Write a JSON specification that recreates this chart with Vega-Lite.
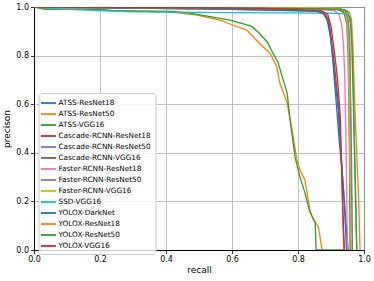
{
  "$schema": "https://vega.github.io/schema/vega-lite/v6.json",
  "autosize": "none",
  "padding": {"left": 34, "top": 7, "right": 10, "bottom": 31},
  "width": 330,
  "height": 243,
  "background": "white",
  "config": {
    "font": "DejaVu Sans",
    "view": {"stroke": "black", "strokeWidth": 1},
    "axis": {
      "labelFont": "DejaVu Sans", "titleFont": "DejaVu Sans",
      "labelFontSize": 8, "titleFontSize": 9, "titleFontWeight": "normal",
      "labelColor": "black", "titleColor": "black",
      "domainColor": "black", "domainWidth": 1,
      "tickColor": "black", "tickSize": 3.5, "tickWidth": 0.8,
      "gridColor": "#b0b0b0", "gridWidth": 0.8,
      "labelFlush": false, "labelOverlap": false, "labelBound": false, "labelPadding": 2
    }
  },
  "data": {"values": [
    {"model":"ATSS-ResNet18","i":0,"recall":0,"precision":1},
    {"model":"ATSS-ResNet18","i":1,"recall":0.3,"precision":0.995},
    {"model":"ATSS-ResNet18","i":2,"recall":0.6,"precision":0.99},
    {"model":"ATSS-ResNet18","i":3,"recall":0.85,"precision":0.983},
    {"model":"ATSS-ResNet18","i":4,"recall":0.875,"precision":0.975},
    {"model":"ATSS-ResNet18","i":5,"recall":0.888,"precision":0.95},
    {"model":"ATSS-ResNet18","i":6,"recall":0.898,"precision":0.88},
    {"model":"ATSS-ResNet18","i":7,"recall":0.905,"precision":0.79},
    {"model":"ATSS-ResNet18","i":8,"recall":0.915,"precision":0.62},
    {"model":"ATSS-ResNet18","i":9,"recall":0.925,"precision":0.45},
    {"model":"ATSS-ResNet18","i":10,"recall":0.935,"precision":0.3},
    {"model":"ATSS-ResNet18","i":11,"recall":0.945,"precision":0.12},
    {"model":"ATSS-ResNet18","i":12,"recall":0.952,"precision":0},

    {"model":"ATSS-ResNet50","i":0,"recall":0,"precision":1},
    {"model":"ATSS-ResNet50","i":1,"recall":0.04,"precision":0.993},
    {"model":"ATSS-ResNet50","i":2,"recall":0.2,"precision":0.99},
    {"model":"ATSS-ResNet50","i":3,"recall":0.23,"precision":0.985},
    {"model":"ATSS-ResNet50","i":4,"recall":0.41,"precision":0.98},
    {"model":"ATSS-ResNet50","i":5,"recall":0.494,"precision":0.967},
    {"model":"ATSS-ResNet50","i":6,"recall":0.564,"precision":0.946},
    {"model":"ATSS-ResNet50","i":7,"recall":0.594,"precision":0.93},
    {"model":"ATSS-ResNet50","i":8,"recall":0.645,"precision":0.905},
    {"model":"ATSS-ResNet50","i":9,"recall":0.682,"precision":0.852},
    {"model":"ATSS-ResNet50","i":10,"recall":0.715,"precision":0.81},
    {"model":"ATSS-ResNet50","i":11,"recall":0.736,"precision":0.753},
    {"model":"ATSS-ResNet50","i":12,"recall":0.745,"precision":0.687},
    {"model":"ATSS-ResNet50","i":13,"recall":0.767,"precision":0.605},
    {"model":"ATSS-ResNet50","i":14,"recall":0.782,"precision":0.494},
    {"model":"ATSS-ResNet50","i":15,"recall":0.797,"precision":0.37},
    {"model":"ATSS-ResNet50","i":16,"recall":0.806,"precision":0.329},
    {"model":"ATSS-ResNet50","i":17,"recall":0.821,"precision":0.288},
    {"model":"ATSS-ResNet50","i":18,"recall":0.836,"precision":0.165},
    {"model":"ATSS-ResNet50","i":19,"recall":0.846,"precision":0.125},
    {"model":"ATSS-ResNet50","i":20,"recall":0.862,"precision":0.095},
    {"model":"ATSS-ResNet50","i":21,"recall":0.873,"precision":0},

    {"model":"ATSS-VGG16","i":0,"recall":0,"precision":1},
    {"model":"ATSS-VGG16","i":1,"recall":0.035,"precision":0.99},
    {"model":"ATSS-VGG16","i":2,"recall":0.2,"precision":0.99},
    {"model":"ATSS-VGG16","i":3,"recall":0.24,"precision":0.985},
    {"model":"ATSS-VGG16","i":4,"recall":0.42,"precision":0.982},
    {"model":"ATSS-VGG16","i":5,"recall":0.473,"precision":0.975},
    {"model":"ATSS-VGG16","i":6,"recall":0.594,"precision":0.946},
    {"model":"ATSS-VGG16","i":7,"recall":0.645,"precision":0.926},
    {"model":"ATSS-VGG16","i":8,"recall":0.66,"precision":0.92},
    {"model":"ATSS-VGG16","i":9,"recall":0.682,"precision":0.893},
    {"model":"ATSS-VGG16","i":10,"recall":0.709,"precision":0.852},
    {"model":"ATSS-VGG16","i":11,"recall":0.724,"precision":0.81},
    {"model":"ATSS-VGG16","i":12,"recall":0.739,"precision":0.774},
    {"model":"ATSS-VGG16","i":13,"recall":0.755,"precision":0.7},
    {"model":"ATSS-VGG16","i":14,"recall":0.767,"precision":0.646},
    {"model":"ATSS-VGG16","i":15,"recall":0.776,"precision":0.535},
    {"model":"ATSS-VGG16","i":16,"recall":0.791,"precision":0.383},
    {"model":"ATSS-VGG16","i":17,"recall":0.806,"precision":0.3},
    {"model":"ATSS-VGG16","i":18,"recall":0.821,"precision":0.235},
    {"model":"ATSS-VGG16","i":19,"recall":0.836,"precision":0.156},
    {"model":"ATSS-VGG16","i":20,"recall":0.852,"precision":0.115},
    {"model":"ATSS-VGG16","i":21,"recall":0.855,"precision":0},
    {"model":"ATSS-VGG16","i":22,"recall":0.94,"precision":0},

    {"model":"Cascade-RCNN-ResNet18","i":0,"recall":0,"precision":1},
    {"model":"Cascade-RCNN-ResNet18","i":1,"recall":0.3,"precision":0.997},
    {"model":"Cascade-RCNN-ResNet18","i":2,"recall":0.6,"precision":0.993},
    {"model":"Cascade-RCNN-ResNet18","i":3,"recall":0.86,"precision":0.985},
    {"model":"Cascade-RCNN-ResNet18","i":4,"recall":0.88,"precision":0.975},
    {"model":"Cascade-RCNN-ResNet18","i":5,"recall":0.892,"precision":0.95},
    {"model":"Cascade-RCNN-ResNet18","i":6,"recall":0.9,"precision":0.88},
    {"model":"Cascade-RCNN-ResNet18","i":7,"recall":0.908,"precision":0.79},
    {"model":"Cascade-RCNN-ResNet18","i":8,"recall":0.918,"precision":0.66},
    {"model":"Cascade-RCNN-ResNet18","i":9,"recall":0.925,"precision":0.55},
    {"model":"Cascade-RCNN-ResNet18","i":10,"recall":0.932,"precision":0.35},
    {"model":"Cascade-RCNN-ResNet18","i":11,"recall":0.936,"precision":0.15},
    {"model":"Cascade-RCNN-ResNet18","i":12,"recall":0.94,"precision":0},

    {"model":"Cascade-RCNN-ResNet50","i":0,"recall":0,"precision":1},
    {"model":"Cascade-RCNN-ResNet50","i":1,"recall":0.5,"precision":0.998},
    {"model":"Cascade-RCNN-ResNet50","i":2,"recall":0.85,"precision":0.995},
    {"model":"Cascade-RCNN-ResNet50","i":3,"recall":0.93,"precision":0.99},
    {"model":"Cascade-RCNN-ResNet50","i":4,"recall":0.945,"precision":0.98},
    {"model":"Cascade-RCNN-ResNet50","i":5,"recall":0.952,"precision":0.95},
    {"model":"Cascade-RCNN-ResNet50","i":6,"recall":0.957,"precision":0.85},
    {"model":"Cascade-RCNN-ResNet50","i":7,"recall":0.96,"precision":0.5},
    {"model":"Cascade-RCNN-ResNet50","i":8,"recall":0.963,"precision":0.1},
    {"model":"Cascade-RCNN-ResNet50","i":9,"recall":0.965,"precision":0},

    {"model":"Cascade-RCNN-VGG16","i":0,"recall":0,"precision":1},
    {"model":"Cascade-RCNN-VGG16","i":1,"recall":0.5,"precision":0.997},
    {"model":"Cascade-RCNN-VGG16","i":2,"recall":0.85,"precision":0.993},
    {"model":"Cascade-RCNN-VGG16","i":3,"recall":0.925,"precision":0.988},
    {"model":"Cascade-RCNN-VGG16","i":4,"recall":0.94,"precision":0.975},
    {"model":"Cascade-RCNN-VGG16","i":5,"recall":0.948,"precision":0.93},
    {"model":"Cascade-RCNN-VGG16","i":6,"recall":0.952,"precision":0.8},
    {"model":"Cascade-RCNN-VGG16","i":7,"recall":0.956,"precision":0.4},
    {"model":"Cascade-RCNN-VGG16","i":8,"recall":0.958,"precision":0},

    {"model":"Faster-RCNN-ResNet18","i":0,"recall":0,"precision":1},
    {"model":"Faster-RCNN-ResNet18","i":1,"recall":0.5,"precision":0.995},
    {"model":"Faster-RCNN-ResNet18","i":2,"recall":0.85,"precision":0.99},
    {"model":"Faster-RCNN-ResNet18","i":3,"recall":0.91,"precision":0.985},
    {"model":"Faster-RCNN-ResNet18","i":4,"recall":0.925,"precision":0.97},
    {"model":"Faster-RCNN-ResNet18","i":5,"recall":0.933,"precision":0.92},
    {"model":"Faster-RCNN-ResNet18","i":6,"recall":0.938,"precision":0.84},
    {"model":"Faster-RCNN-ResNet18","i":7,"recall":0.942,"precision":0.7},
    {"model":"Faster-RCNN-ResNet18","i":8,"recall":0.946,"precision":0.4},
    {"model":"Faster-RCNN-ResNet18","i":9,"recall":0.95,"precision":0},

    {"model":"Faster-RCNN-ResNet50","i":0,"recall":0,"precision":1},
    {"model":"Faster-RCNN-ResNet50","i":1,"recall":0.5,"precision":0.998},
    {"model":"Faster-RCNN-ResNet50","i":2,"recall":0.85,"precision":0.995},
    {"model":"Faster-RCNN-ResNet50","i":3,"recall":0.93,"precision":0.99},
    {"model":"Faster-RCNN-ResNet50","i":4,"recall":0.945,"precision":0.975},
    {"model":"Faster-RCNN-ResNet50","i":5,"recall":0.952,"precision":0.93},
    {"model":"Faster-RCNN-ResNet50","i":6,"recall":0.957,"precision":0.8},
    {"model":"Faster-RCNN-ResNet50","i":7,"recall":0.962,"precision":0.4},
    {"model":"Faster-RCNN-ResNet50","i":8,"recall":0.965,"precision":0},

    {"model":"Faster-RCNN-VGG16","i":0,"recall":0,"precision":1},
    {"model":"Faster-RCNN-VGG16","i":1,"recall":0.5,"precision":0.999},
    {"model":"Faster-RCNN-VGG16","i":2,"recall":0.85,"precision":0.997},
    {"model":"Faster-RCNN-VGG16","i":3,"recall":0.925,"precision":0.993},
    {"model":"Faster-RCNN-VGG16","i":4,"recall":0.94,"precision":0.985},
    {"model":"Faster-RCNN-VGG16","i":5,"recall":0.948,"precision":0.95},
    {"model":"Faster-RCNN-VGG16","i":6,"recall":0.952,"precision":0.85},
    {"model":"Faster-RCNN-VGG16","i":7,"recall":0.955,"precision":0.6},
    {"model":"Faster-RCNN-VGG16","i":8,"recall":0.958,"precision":0.3},
    {"model":"Faster-RCNN-VGG16","i":9,"recall":0.962,"precision":0},

    {"model":"SSD-VGG16","i":0,"recall":0,"precision":1},
    {"model":"SSD-VGG16","i":1,"recall":0.1,"precision":0.99},
    {"model":"SSD-VGG16","i":2,"recall":0.3,"precision":0.98},
    {"model":"SSD-VGG16","i":3,"recall":0.6,"precision":0.977},
    {"model":"SSD-VGG16","i":4,"recall":0.9,"precision":0.975},
    {"model":"SSD-VGG16","i":5,"recall":0.945,"precision":0.972},
    {"model":"SSD-VGG16","i":6,"recall":0.955,"precision":0.96},
    {"model":"SSD-VGG16","i":7,"recall":0.962,"precision":0.92},
    {"model":"SSD-VGG16","i":8,"recall":0.966,"precision":0.8},
    {"model":"SSD-VGG16","i":9,"recall":0.97,"precision":0.5},
    {"model":"SSD-VGG16","i":10,"recall":0.975,"precision":0.2},
    {"model":"SSD-VGG16","i":11,"recall":0.978,"precision":0},

    {"model":"YOLOX-DarkNet","i":0,"recall":0,"precision":1},
    {"model":"YOLOX-DarkNet","i":1,"recall":0.3,"precision":0.995},
    {"model":"YOLOX-DarkNet","i":2,"recall":0.6,"precision":0.99},
    {"model":"YOLOX-DarkNet","i":3,"recall":0.86,"precision":0.983},
    {"model":"YOLOX-DarkNet","i":4,"recall":0.88,"precision":0.97},
    {"model":"YOLOX-DarkNet","i":5,"recall":0.893,"precision":0.93},
    {"model":"YOLOX-DarkNet","i":6,"recall":0.902,"precision":0.84},
    {"model":"YOLOX-DarkNet","i":7,"recall":0.912,"precision":0.7},
    {"model":"YOLOX-DarkNet","i":8,"recall":0.922,"precision":0.58},
    {"model":"YOLOX-DarkNet","i":9,"recall":0.93,"precision":0.4},
    {"model":"YOLOX-DarkNet","i":10,"recall":0.94,"precision":0.2},
    {"model":"YOLOX-DarkNet","i":11,"recall":0.947,"precision":0},

    {"model":"YOLOX-ResNet18","i":0,"recall":0,"precision":1},
    {"model":"YOLOX-ResNet18","i":1,"recall":0.5,"precision":0.997},
    {"model":"YOLOX-ResNet18","i":2,"recall":0.85,"precision":0.993},
    {"model":"YOLOX-ResNet18","i":3,"recall":0.94,"precision":0.99},
    {"model":"YOLOX-ResNet18","i":4,"recall":0.955,"precision":0.98},
    {"model":"YOLOX-ResNet18","i":5,"recall":0.962,"precision":0.95},
    {"model":"YOLOX-ResNet18","i":6,"recall":0.966,"precision":0.85},
    {"model":"YOLOX-ResNet18","i":7,"recall":0.972,"precision":0.6},
    {"model":"YOLOX-ResNet18","i":8,"recall":0.978,"precision":0.4},
    {"model":"YOLOX-ResNet18","i":9,"recall":0.984,"precision":0.2},
    {"model":"YOLOX-ResNet18","i":10,"recall":0.988,"precision":0},

    {"model":"YOLOX-ResNet50","i":0,"recall":0,"precision":1},
    {"model":"YOLOX-ResNet50","i":1,"recall":0.5,"precision":0.997},
    {"model":"YOLOX-ResNet50","i":2,"recall":0.85,"precision":0.993},
    {"model":"YOLOX-ResNet50","i":3,"recall":0.935,"precision":0.99},
    {"model":"YOLOX-ResNet50","i":4,"recall":0.95,"precision":0.98},
    {"model":"YOLOX-ResNet50","i":5,"recall":0.958,"precision":0.95},
    {"model":"YOLOX-ResNet50","i":6,"recall":0.963,"precision":0.85},
    {"model":"YOLOX-ResNet50","i":7,"recall":0.968,"precision":0.6},
    {"model":"YOLOX-ResNet50","i":8,"recall":0.973,"precision":0.3},
    {"model":"YOLOX-ResNet50","i":9,"recall":0.978,"precision":0},

    {"model":"YOLOX-VGG16","i":0,"recall":0,"precision":1},
    {"model":"YOLOX-VGG16","i":1,"recall":0.4,"precision":0.998},
    {"model":"YOLOX-VGG16","i":2,"recall":0.7,"precision":0.994},
    {"model":"YOLOX-VGG16","i":3,"recall":0.87,"precision":0.985},
    {"model":"YOLOX-VGG16","i":4,"recall":0.89,"precision":0.97},
    {"model":"YOLOX-VGG16","i":5,"recall":0.9,"precision":0.92},
    {"model":"YOLOX-VGG16","i":6,"recall":0.91,"precision":0.82},
    {"model":"YOLOX-VGG16","i":7,"recall":0.92,"precision":0.7},
    {"model":"YOLOX-VGG16","i":8,"recall":0.928,"precision":0.55},
    {"model":"YOLOX-VGG16","i":9,"recall":0.933,"precision":0.3},
    {"model":"YOLOX-VGG16","i":10,"recall":0.937,"precision":0.1},
    {"model":"YOLOX-VGG16","i":11,"recall":0.94,"precision":0}
  ]},
  "mark": {"type": "line", "strokeWidth": 1.3, "clip": true},
  "encoding": {
    "x": {"field": "recall", "type": "quantitative",
      "scale": {"domain": [0, 1], "nice": false, "zero": false},
      "axis": {"title": "recall", "values": [0, 0.2, 0.4, 0.6, 0.8, 1.0], "format": ".1f", "titlePadding": 2}},
    "y": {"field": "precision", "type": "quantitative",
      "scale": {"domain": [0, 1], "nice": false, "zero": false},
      "axis": {"title": "precison", "values": [0, 0.2, 0.4, 0.6, 0.8, 1.0], "format": ".1f", "titlePadding": 4}},
    "order": {"field": "i", "type": "quantitative"},
    "color": {"field": "model", "type": "nominal",
      "scale": {
        "domain": ["ATSS-ResNet18","ATSS-ResNet50","ATSS-VGG16","Cascade-RCNN-ResNet18","Cascade-RCNN-ResNet50","Cascade-RCNN-VGG16","Faster-RCNN-ResNet18","Faster-RCNN-ResNet50","Faster-RCNN-VGG16","SSD-VGG16","YOLOX-DarkNet","YOLOX-ResNet18","YOLOX-ResNet50","YOLOX-VGG16"],
        "range": ["#1f77b4","#ff7f0e","#2ca02c","#d62728","#9467bd","#8c564b","#e377c2","#7f7f7f","#bcbd22","#17becf","#1f77b4","#ff7f0e","#2ca02c","#d62728"]
      },
      "legend": {
        "title": null, "orient": "none", "legendX": 4.5, "legendY": 86,
        "padding": 4, "fillColor": "rgba(255,255,255,0.8)", "strokeColor": "#cccccc", "cornerRadius": 3,
        "symbolType": "M-1.5,0H1.5", "symbolSize": 100, "symbolStrokeWidth": 1.8,
        "labelFontSize": 7.3, "labelColor": "black", "labelOffset": 4, "rowPadding": 1,
        "labelLimit": 200
      }
    }
  }
}
